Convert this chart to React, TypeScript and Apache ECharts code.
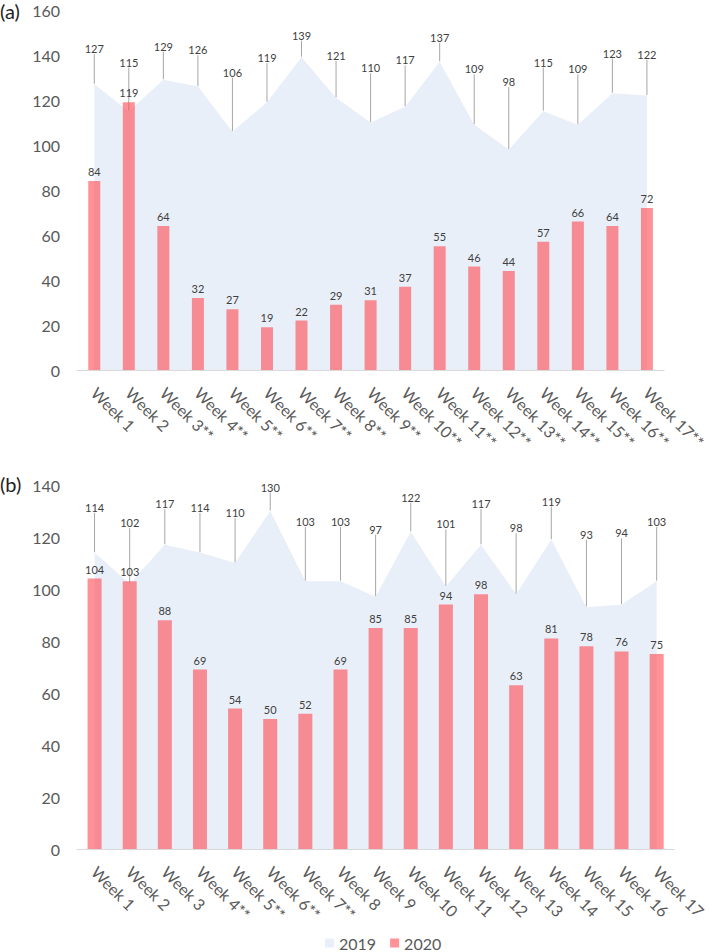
import React, { useEffect, useRef } from "react";
import * as echarts from "echarts";

const topCategories = [
  "Week 1", "Week 2", "Week 3**", "Week 4**", "Week 5**", "Week 6**", "Week 7**", "Week 8**", "Week 9**",
  "Week 10**", "Week 11**", "Week 12**", "Week 13**", "Week 14**", "Week 15**", "Week 16**", "Week 17**",
];
const top2019 = [127, 115, 129, 126, 106, 119, 139, 121, 110, 117, 137, 109, 98, 115, 109, 123, 122];
const top2020 = [84, 119, 64, 32, 27, 19, 22, 29, 31, 37, 55, 46, 44, 57, 66, 64, 72];

const bottomCategories = [
  "Week 1", "Week 2", "Week 3", "Week 4**", "Week 5**", "Week 6**", "Week 7**", "Week 8", "Week 9",
  "Week 10", "Week 11", "Week 12", "Week 13", "Week 14", "Week 15", "Week 16", "Week 17",
];
const bottom2019 = [114, 102, 117, 114, 110, 130, 103, 103, 97, 122, 101, 117, 98, 119, 93, 94, 103];
const bottom2020 = [104, 103, 88, 69, 54, 50, 52, 69, 85, 85, 94, 98, 63, 81, 78, 76, 75];

const topAxisMax = 160;
const bottomAxisMax = 140;
const axisInterval = 20;

const FONT = "Lato, 'Open Sans', sans-serif";
const AREA = "#E9EFF8";
const BAR = "rgba(255, 72, 82, 0.6)";
const TEXT = "#595959";
const VALTEXT = "#404040";

function makeLayout(top: number, k: number, off: number) {
  return (params: any) => {
    const r = params.rect;
    const cx = r.x + r.width / 2;
    const cy = r.y + r.height / 2;
    const ly = top + k * (cy - top) + off;
    return {
      x: cx,
      y: ly,
      align: "center",
      verticalAlign: "middle",
      labelLinePoints: [
        [cx, cy],
        [cx, ly + 8],
        [cx, ly + 8],
      ],
    };
  };
}

export default function App() {
  const ref = useRef<HTMLDivElement>(null);
  useEffect(() => {
    if (!ref.current) return;
    const chart = echarts.init(ref.current, undefined, { renderer: "svg" });
    const grids = [
      { left: 77, top: 10, width: 591, height: 360 },
      { left: 77, top: 485, width: 605, height: 364 },
    ];
    const xAxisBase = (cats: string[], gi: number) => ({
      type: "category",
      gridIndex: gi,
      data: cats,
      boundaryGap: true,
      axisLine: { lineStyle: { color: "#D9D9D9", width: 1 } },
      axisTick: { show: false },
      axisLabel: {
        rotate: -45,
        interval: 0,
        margin: 20,
        color: TEXT,
        fontSize: 16,
        fontFamily: FONT,
      },
    });
    const yAxisBase = (max: number, gi: number) => ({
      type: "value",
      gridIndex: gi,
      min: 0,
      max,
      interval: axisInterval,
      axisLine: { show: false },
      axisTick: { show: false },
      splitLine: { show: false },
      axisLabel: { color: TEXT, fontSize: 16, fontFamily: FONT, margin: 17 },
    });
    const areaSeries = (data: number[], gi: number, layout: any) => ({
      name: "2019",
      type: "line",
      z: 1,
      xAxisIndex: gi,
      yAxisIndex: gi,
      data,
      symbol: "circle",
      symbolSize: 1,
      itemStyle: { color: AREA },
      lineStyle: { width: 0, opacity: 0 },
      areaStyle: { color: AREA, opacity: 1 },
      label: {
        show: true,
        position: "top",
        color: VALTEXT,
        fontSize: 11,
        fontFamily: FONT,
      },
      labelLine: { show: true, lineStyle: { color: "#A6A6A6", width: 1 } },
      labelLayout: layout,
    });
    const barSeries = (data: number[], gi: number, w: number) => ({
      name: "2020",
      type: "bar",
      z: 3,
      xAxisIndex: gi,
      yAxisIndex: gi,
      data,
      barWidth: w,
      itemStyle: { color: BAR },
      label: {
        show: true,
        position: "top",
        distance: 4,
        color: VALTEXT,
        fontSize: 11,
        fontFamily: FONT,
      },
    });
    chart.setOption({
      animation: false,
      grid: grids,
      xAxis: [xAxisBase(topCategories, 0), xAxisBase(bottomCategories, 1)],
      yAxis: [yAxisBase(topAxisMax, 0), yAxisBase(bottomAxisMax, 1)],
      legend: {
        left: 320,
        top: 930,
        icon: "rect",
        itemWidth: 9,
        itemHeight: 9,
        itemGap: 14,
        textStyle: { color: TEXT, fontSize: 16, fontFamily: FONT },
        data: [
          { name: "2019", itemStyle: { color: AREA } },
          { name: "2020", itemStyle: { color: BAR } },
        ],
      },
      graphic: [
        {
          type: "text",
          left: 0,
          top: 1,
          style: { text: "(a)", fontSize: 20, fill: "#222", fontFamily: FONT },
        },
        {
          type: "text",
          left: 0,
          top: 474,
          style: { text: "(b)", fontSize: 20, fill: "#222", fontFamily: FONT },
        },
      ],
      series: [
        areaSeries(top2019, 0, makeLayout(10, 0.5, 1.5)),
        barSeries(top2020, 0, 12),
        areaSeries(bottom2019, 1, makeLayout(485, 0.49, -10.7)),
        barSeries(bottom2020, 1, 14),
      ],
    });
    return () => chart.dispose();
  }, []);
  return (
    <div
      ref={ref}
      style={{ position: "fixed", left: 0, top: 0, width: 709, height: 952, background: "#fff" }}
    />
  );
}
